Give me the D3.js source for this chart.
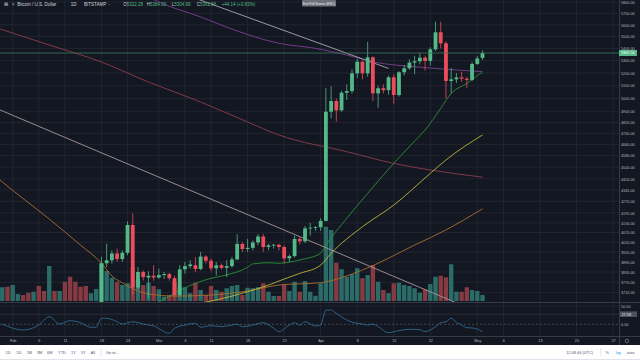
<!DOCTYPE html>
<html><head><meta charset="utf-8">
<script src="https://cdn.jsdelivr.net/npm/d3@7"></script>
<style>
body{margin:0;background:#131722;}
svg{display:block;font-family:"Liberation Sans",Arial,sans-serif;}
</style>
</head><body>
<svg id="c" width="640" height="360"></svg>
<script>
// ---------- DATA ----------
const dates = ["2019-01-30","2019-01-31",
"2019-02-01","2019-02-02","2019-02-03","2019-02-04","2019-02-05","2019-02-06","2019-02-07","2019-02-08","2019-02-09","2019-02-10",
"2019-02-11","2019-02-12","2019-02-13","2019-02-14","2019-02-15","2019-02-16","2019-02-17","2019-02-18","2019-02-19","2019-02-20",
"2019-02-21","2019-02-22","2019-02-23","2019-02-24","2019-02-25","2019-02-26","2019-02-27","2019-02-28",
"2019-03-01","2019-03-02","2019-03-03","2019-03-04","2019-03-05","2019-03-06","2019-03-07","2019-03-08","2019-03-09","2019-03-10",
"2019-03-11","2019-03-12","2019-03-13","2019-03-14","2019-03-15","2019-03-16","2019-03-17","2019-03-18","2019-03-19","2019-03-20",
"2019-03-21","2019-03-22","2019-03-23","2019-03-24","2019-03-25","2019-03-26","2019-03-27","2019-03-28","2019-03-29","2019-03-30","2019-03-31",
"2019-04-01","2019-04-02","2019-04-03","2019-04-04","2019-04-05","2019-04-06","2019-04-07","2019-04-08","2019-04-09","2019-04-10",
"2019-04-11","2019-04-12","2019-04-13","2019-04-14","2019-04-15","2019-04-16","2019-04-17","2019-04-18","2019-04-19","2019-04-20",
"2019-04-21","2019-04-22","2019-04-23","2019-04-24","2019-04-25","2019-04-26","2019-04-27","2019-04-28","2019-04-29","2019-04-30",
"2019-05-01","2019-05-02"];
const open = [3440,3465,
3435,3460,3485,3415,3410,3435,3370,3360,3610,3600,
3625,3580,3575,3565,3555,3550,3575,3630,3882,3900,
3941,3907,3945,4117,3740,3830,3798,3808,
3798,3812,3818,3794,3697,3846,3865,3870,3848,3922,
3897,3852,3870,3855,3865,3905,3999,3968,3975,4008,
4045,3980,3990,3994,3980,3911,3925,4030,4015,4096,4100,
4103,4143,4900,4981,4910,5045,5058,5198,5291,5198,
5327,5040,5080,5065,5166,5027,5206,5238,5284,5295,
5324,5298,5393,5536,5443,5137,5150,5165,5155,5145,
5273,5322.28];
const high = [3490,3480,
3480,3500,3490,3430,3440,3440,3385,3630,3630,3635,
3630,3620,3620,3590,3610,3600,3635,3922,4000,3960,
3970,3960,4140,4192,3860,3840,3835,3870,
3850,3830,3825,3810,3870,3890,3900,3920,3950,3930,
3910,3890,3880,3900,3920,4060,4010,4030,4020,4060,
4060,4000,4000,4000,3990,3935,4050,4040,4110,4130,4110,
4160,5080,5095,5000,5060,5110,5230,5315,5300,5455,
5335,5100,5110,5180,5190,5215,5265,5310,5340,5360,
5340,5410,5627,5627,5460,5240,5200,5210,5170,5290,
5340,5384];
const low = [3420,3420,
3400,3440,3400,3395,3400,3350,3350,3350,3580,3560,
3570,3540,3550,3530,3540,3545,3560,3620,3860,3880,
3890,3890,3930,3700,3730,3780,3680,3780,
3790,3790,3780,3690,3690,3820,3850,3830,3840,3880,
3835,3810,3845,3800,3855,3900,3950,3950,3960,3990,
3950,3960,3970,3960,3880,3890,3915,3995,4005,4050,4080,
4080,4140,4850,4826,4900,4990,5040,5160,5150,5170,
4980,4930,5040,5030,4960,5015,5180,5225,5190,5270,
5220,5260,5380,5400,5000,5040,5120,5130,5080,5135,
5265,5304.99];
const close = [3465,3435,
3460,3485,3415,3410,3435,3370,3360,3610,3600,3625,
3580,3575,3565,3555,3550,3575,3630,3882,3900,3941,
3907,3945,4117,3740,3830,3800,3808,3798,
3812,3818,3794,3697,3846,3865,3875,3848,3922,3897,
3852,3870,3855,3865,3905,3999,3968,3975,4008,4045,
3980,3990,3994,3980,3911,3925,4030,4015,4096,4100,4103,
4143,4900,4981,4910,5045,5058,5198,5291,5198,5327,
5040,5080,5065,5166,5027,5206,5238,5284,5295,5324,
5298,5393,5536,5443,5137,5150,5165,5155,5145,5273,
5318.42,5362.56];
const volume = [5.5,5.7,
6.4,2.8,2.4,3.3,3.7,6.0,4.0,14.0,4.0,4.0,
7.7,9.7,7.7,5.7,6.0,3.1,4.8,15.1,12.0,9.3,
7.7,6.4,7.1,13.5,8.4,6.4,7.3,6.0,
4.7,1.7,2.4,7.7,5.7,5.5,3.1,7.3,4.4,2.4,
6.0,4.4,3.7,5.1,6.0,6.4,2.4,5.3,5.1,5.5,
7.1,3.7,2.0,2.0,6.6,4.0,7.7,3.7,8.0,3.7,2.1,
7.1,29.7,28.4,15.3,12.7,9.7,10.7,13.1,9.1,10.4,
14.4,7.7,4.4,3.1,7.1,7.3,6.4,6.0,5.1,3.3,
4.7,6.8,9.7,10.1,9.5,14.7,3.7,3.7,5.5,4.4,
4.0,2.4];

// moving averages
const maGreenDates = ["2019-02-25","2019-03-01","2019-03-04","2019-03-08","2019-03-11","2019-03-14","2019-03-18","2019-03-19","2019-03-22","2019-03-24","2019-03-28","2019-04-01","2019-04-02","2019-04-06","2019-04-10","2019-04-15","2019-04-19","2019-04-21","2019-04-24","2019-04-26","2019-04-29","2019-05-01","2019-05-02"];
const maGreenVals  = [3600,3658,3708,3764,3793,3813,3858,3878,3885,3882,3902,3942,3992,4160,4322,4526,4684,4764,4926,5040,5118,5180,5206];
const maYellowDates = ["2019-03-04","2019-03-11","2019-03-18","2019-03-22","2019-03-25","2019-03-28","2019-04-01","2019-04-03","2019-04-09","2019-04-15","2019-04-22","2019-04-25","2019-05-02"];
const maYellowVals  = [3635,3663,3716,3754,3789,3822,3871,3942,4106,4245,4457,4550,4728];
const maOrangeDates = ["2019-01-29","2019-01-30","2019-02-08","2019-02-14","2019-02-18","2019-02-20","2019-02-22","2019-02-27","2019-03-04","2019-03-11","2019-03-18","2019-03-24","2019-04-01","2019-04-09","2019-04-19","2019-04-25","2019-05-02"];
const maOrangeVals  = [4429,4399,4155,3992,3883,3807,3767,3703,3691,3697,3720,3754,3768,3842,3992,4086,4221];
const maRedDates = ["2019-01-29","2019-02-08","2019-02-18","2019-02-27","2019-03-09","2019-03-18","2019-03-24","2019-04-06","2019-04-15","2019-04-22","2019-05-02"];
const maRedVals  = [5573,5429,5289,5129,4974,4823,4728,4608,4526,4480,4431];
const maPurpleDates = ["2019-02-20","2019-03-01","2019-03-09","2019-03-16","2019-03-24","2019-03-31","2019-04-06","2019-04-12","2019-04-19","2019-04-25","2019-05-02"];
const maPurpleVals  = [6050,5800,5668,5547,5443,5401,5346,5283,5251,5230,5211];

// drawn trend lines (date, price endpoints)
const trendUpperDates = ["2019-02-25","2019-04-14"];
const trendUpperVals  = [6023,5237];
const trendLowerDates = ["2019-01-25","2019-04-29"];
const trendLowerVals  = [4990,3628];

// indicator pane
const indDates = ["2019-01-30","2019-02-03","2019-02-06","2019-02-08","2019-02-10","2019-02-12","2019-02-14","2019-02-16","2019-02-17","2019-02-18","2019-02-19","2019-02-21","2019-02-22","2019-02-24","2019-02-26","2019-02-28",
"2019-03-03","2019-03-04","2019-03-06","2019-03-08","2019-03-09","2019-03-11","2019-03-13","2019-03-16","2019-03-17","2019-03-19","2019-03-21","2019-03-23","2019-03-24","2019-03-26","2019-03-27","2019-03-28","2019-03-29","2019-03-31",
"2019-04-01","2019-04-02","2019-04-03","2019-04-04","2019-04-06","2019-04-08","2019-04-09","2019-04-10","2019-04-11","2019-04-12","2019-04-14","2019-04-16","2019-04-18","2019-04-20","2019-04-21","2019-04-23","2019-04-24","2019-04-25","2019-04-26","2019-04-27","2019-04-28","2019-04-29","2019-04-30","2019-05-01","2019-05-02"];
const indVals = [0.8,-15.6,-1.9,20.8,0.8,9.9,4.4,-8.2,-8.2,16.4,16.4,7.1,0.8,7.1,0.8,-4.6,
-24.6,-10.9,-1.9,2.7,-8.2,-3.6,-6.4,0,-6.4,-1.9,4.4,-10.9,-20,-1.9,4.4,-1.9,7.1,-4.6,
-2,39,39,30,11.7,2.7,0.8,-1.9,0.8,-6.4,-22.8,-17.3,-13.7,-15,-20,-6.4,4.4,7.1,16.4,5,-1.9,-9.1,-10,-13,-20];
const indTicks = [50,0];
const indLastLabel = 27.58;

// axes
const priceTicks = [5800,5700,5600,5500,5400,5300,5200,5100,5000,4900,4820,4740,4660,4580,4500,4420,4345,4270,4195,4130,4070,4010,3950,3890,3830,3770,3710];
const tickDates = ["2019-02-01","2019-02-06","2019-02-11","2019-02-18","2019-02-23","2019-03-01","2019-03-06","2019-03-11","2019-03-18","2019-03-25","2019-04-01","2019-04-08","2019-04-15","2019-04-22","2019-05-01","2019-05-06","2019-05-13","2019-05-20","2019-05-27"];
const tickLabels = ["Feb","6","11","18","23","Mar","6","11","18","25","Apr","8","15","22","May","6","13","20","27"];
const lastPrice = 5362.56;
const rangeButtons = ["1D","5D","1M","3M","6M","YTD","1Y","5Y","All"];

// ---------- CHART ----------
const parse = d3.utcParse("%Y-%m-%d");
const svg = d3.select("#c");
const PR = 619, MB = 302, IT = 303, IB = 336, TT = 345;
const bg = "#131722", grid = "#242833", border = "#363a45", axisTxt = "#b2b5be";
const up = "#53b987", dn = "#eb4d5c";

const x = d3.scaleUtc().domain([parse("2019-02-01"), parse("2019-05-27")]).range([12.7, 613]);
const y = d3.scaleLog().domain([3770, 5700]).range([282.3, 13.3]);
const yv = d3.scaleLinear().domain([0, 30]).range([301, 226]);
const yi = d3.scaleLinear().domain([0, 50]).range([324.3, 306]);

svg.append("rect").attr("width",640).attr("height",360).attr("fill",bg);
const defs = svg.append("defs");
defs.append("clipPath").attr("id","cm").append("rect").attr("x",0).attr("y",0).attr("width",PR).attr("height",MB);
defs.append("clipPath").attr("id","ci").append("rect").attr("x",0).attr("y",IT).attr("width",PR).attr("height",IB-IT);

const tD = tickDates.map(parse);
// grid
const gg = svg.append("g");
gg.selectAll("line.vg").data(tD).join("line").attr("class","vg")
  .attr("x1",d=>x(d)).attr("x2",d=>x(d)).attr("y1",0).attr("y2",IB)
  .attr("stroke",grid).attr("stroke-width",0.8);
gg.selectAll("line.hg").data(priceTicks).join("line").attr("class","hg")
  .attr("x1",0).attr("x2",PR).attr("y1",d=>y(d)).attr("y2",d=>y(d))
  .attr("stroke",grid).attr("stroke-width",0.8);
gg.append("line").attr("x1",0).attr("x2",PR).attr("y1",yi(50)).attr("y2",yi(50)).attr("stroke",grid).attr("stroke-width",0.8);

const data = dates.map((d,i)=>({d:parse(d),o:open[i],h:high[i],l:low[i],c:close[i],v:volume[i]}));
const main = svg.append("g").attr("clip-path","url(#cm)");

// volume
main.selectAll("rect.vol").data(data).join("rect").attr("class","vol")
  .attr("x",d=>x(d.d)-2.2).attr("width",4.4)
  .attr("y",d=>yv(d.v)).attr("height",d=>yv(0)-yv(d.v))
  .attr("fill",d=>d.c>=d.o?"#2b6c69":"#863a41");

// moving averages
const line = d3.line().x(d=>x(d[0])).y(d=>y(d[1])).curve(d3.curveMonotoneX);
function ma(ds, vs, col, w){
  const pts = ds.map((d,i)=>[parse(d), vs[i]]);
  main.append("path").datum(pts).attr("d",line).attr("fill","none").attr("stroke",col).attr("stroke-width",w);
}
ma(maRedDates, maRedVals, "#8c3d4b", 0.9);
ma(maPurpleDates, maPurpleVals, "#7b3f91", 0.9);
ma(maOrangeDates, maOrangeVals, "#a86f2c", 0.9);
ma(maYellowDates, maYellowVals, "#bdb53a", 0.9);
ma(maGreenDates, maGreenVals, "#2a9134", 0.9);

// trend lines
function trend(ds, vs, col){
  const pts = ds.map((d,i)=>[parse(d), vs[i]]);
  main.append("path").datum(pts).attr("d",d3.line().x(d=>x(d[0])).y(d=>y(d[1])))
    .attr("fill","none").attr("stroke",col).attr("stroke-width",0.9);
}
trend(trendUpperDates, trendUpperVals, "#aaa6b0");
trend(trendLowerDates, trendLowerVals, "#a8979d");

// candles
const cg = main.append("g");
cg.selectAll("line.wick").data(data).join("line").attr("class","wick")
  .attr("x1",d=>x(d.d)).attr("x2",d=>x(d.d)).attr("y1",d=>y(d.h)).attr("y2",d=>y(d.l))
  .attr("stroke",d=>d.c>=d.o?up:dn).attr("stroke-width",0.8);
cg.selectAll("rect.body").data(data).join("rect").attr("class","body")
  .attr("x",d=>x(d.d)-1.9).attr("width",3.8)
  .attr("y",d=>Math.min(y(d.o),y(d.c)))
  .attr("height",d=>Math.max(0.8,Math.abs(y(d.o)-y(d.c))))
  .attr("fill",d=>d.c>=d.o?up:dn);

// current price line
main.append("line").attr("x1",0).attr("x2",PR).attr("y1",y(lastPrice)).attr("y2",y(lastPrice))
  .attr("stroke","#3d7a5c").attr("stroke-width",0.8);

// indicator pane
const ind = svg.append("g").attr("clip-path","url(#ci)");
ind.append("line").attr("x1",0).attr("x2",PR).attr("y1",yi(0)).attr("y2",yi(0))
  .attr("stroke","#50535e").attr("stroke-width",0.8).attr("stroke-dasharray","2,2");
ind.append("line").attr("x1",0).attr("x2",PR).attr("y1",yi(indLastLabel)).attr("y2",yi(indLastLabel))
  .attr("stroke","#3a3e4a").attr("stroke-width",0.6);
const ipts = indDates.map((d,i)=>[parse(d), indVals[i]]);
ind.append("path").datum(ipts)
  .attr("d",d3.line().x(d=>x(d[0])).y(d=>yi(d[1])).curve(d3.curveMonotoneX))
  .attr("fill","none").attr("stroke","#35729a").attr("stroke-width",0.8);

// borders
svg.append("line").attr("x1",0).attr("x2",640).attr("y1",MB+0.5).attr("y2",MB+0.5).attr("stroke",border).attr("stroke-width",1);
svg.append("line").attr("x1",0).attr("x2",640).attr("y1",IB+0.5).attr("y2",IB+0.5).attr("stroke",border).attr("stroke-width",1);
svg.append("line").attr("x1",PR+0.5).attr("x2",PR+0.5).attr("y1",0).attr("y2",TT).attr("stroke",border).attr("stroke-width",1);

// price axis
const pa = svg.append("g").attr("transform",`translate(${PR+2},0)`)
  .call(d3.axisRight(y).tickValues(priceTicks).tickFormat(d=>d.toFixed(2)).tickSize(0).tickPadding(0));
pa.select(".domain").remove();
pa.selectAll("text").attr("fill",axisTxt).attr("font-size",3.8).attr("font-family","Liberation Sans, Arial, sans-serif").attr("text-anchor","start");

// indicator axis labels
const ia = svg.append("g").attr("transform",`translate(${PR+2},0)`)
  .call(d3.axisRight(yi).tickValues(indTicks).tickFormat(d=>d.toFixed(2)).tickSize(0).tickPadding(0));
ia.select(".domain").remove();
ia.selectAll("text").attr("fill",axisTxt).attr("font-size",3.8).attr("font-family","Liberation Sans, Arial, sans-serif");

// last indicator label box
svg.append("rect").attr("x",PR+1).attr("y",yi(indLastLabel)-2.8).attr("width",17).attr("height",5.6).attr("fill","#4c525e");
svg.append("text").attr("x",PR+2.5).attr("y",yi(indLastLabel)).attr("dy","0.35em").attr("font-size",3.8).attr("fill","#e0e3eb").text(indLastLabel.toFixed(2));

// last price box
svg.append("rect").attr("x",PR).attr("y",y(lastPrice)-3).attr("width",18).attr("height",6).attr("fill",up);
svg.append("text").attr("x",PR+2).attr("y",y(lastPrice)).attr("dy","0.35em").attr("font-size",3.8).attr("fill","#ffffff").text(lastPrice.toFixed(2));

// time axis
const ta = svg.append("g").attr("transform",`translate(0,${IB+1})`)
  .call(d3.axisBottom(x).tickValues(tD).tickFormat((d,i)=>tickLabels[i]).tickSize(0).tickPadding(2.5));
ta.select(".domain").remove();
ta.selectAll("text").attr("fill",axisTxt).attr("font-size",3.8).attr("font-family","Liberation Sans, Arial, sans-serif");
svg.append("circle").attr("cx",627).attr("cy",341).attr("r",1.8).attr("fill","none").attr("stroke","#9598a1").attr("stroke-width",0.6);

// header legend
const hd = svg.append("text").attr("y",6.3).attr("font-size",4.5).attr("fill","#d1d4dc");
hd.append("tspan").attr("x",4).text("⊞");
hd.append("tspan").attr("x",12).attr("fill","#9598a1").text("≡");
hd.append("tspan").attr("x",17.3).text("Bitcoin / U.S. Dollar");
hd.append("tspan").attr("x",70.7).text("1D");
hd.append("tspan").attr("x",84).text("BITSTAMP");
hd.append("tspan").attr("x",108.5).text("-");
const ohlc = [["O","5322.28",123.3],["H","5384.00",146.7],["L","5304.99",171.7],["C","5362.56",196.7]];
ohlc.forEach(o=>{
  hd.append("tspan").attr("x",o[2]).attr("fill","#d1d4dc").text(o[0]);
  hd.append("tspan").attr("fill",up).text(o[1]);
});
hd.append("tspan").attr("x",221.7).attr("fill",up).text("+44.14 (+0.83%)");

// exit full screen pill
svg.append("rect").attr("x",302).attr("y",0).attr("width",34).attr("height",6.5).attr("rx",1).attr("fill","#6e727b");
svg.append("text").attr("x",319).attr("y",3.4).attr("dy","0.35em").attr("text-anchor","middle").attr("font-size",3.2).attr("fill","#f0f0f0").text("Exit Full Screen (ESC)");

// bottom toolbar
svg.append("rect").attr("x",0).attr("y",TT).attr("width",640).attr("height",360-TT).attr("fill","#ffffff");
svg.append("line").attr("x1",0).attr("x2",640).attr("y1",359.5).attr("y2",359.5).attr("stroke","#e0e3eb");
const bx = [8,19,29.4,39.6,49.8,62,73.5,83.3,93];
svg.selectAll("text.rb").data(rangeButtons).join("text").attr("class","rb")
  .attr("x",(d,i)=>bx[i]).attr("y",352.5).attr("dy","0.35em").attr("text-anchor","middle")
  .attr("font-size",3.9).attr("fill","#4f5966").text(d=>d);
svg.append("line").attr("x1",101).attr("x2",101).attr("y1",348.5).attr("y2",356.5).attr("stroke","#d6d8de").attr("stroke-width",0.6);
svg.append("text").attr("x",106).attr("y",352.5).attr("dy","0.35em").attr("font-size",3.9).attr("fill","#4f5966").text("Go to...");
svg.append("text").attr("x",579.6).attr("y",352.5).attr("dy","0.35em").attr("text-anchor","middle").attr("font-size",3.9).attr("fill","#4f5966").text("12:48:44 (UTC)");
svg.append("line").attr("x1",600.8).attr("x2",600.8).attr("y1",348.5).attr("y2",356.5).attr("stroke","#d6d8de").attr("stroke-width",0.6);
svg.append("text").attr("x",607.3).attr("y",352.5).attr("dy","0.35em").attr("text-anchor","middle").attr("font-size",3.9).attr("fill","#4f5966").text("%");
svg.append("text").attr("x",618.4).attr("y",352.5).attr("dy","0.35em").attr("text-anchor","middle").attr("font-size",3.9).attr("fill","#2196f3").text("log");
svg.append("text").attr("x",630.6).attr("y",352.5).attr("dy","0.35em").attr("text-anchor","middle").attr("font-size",3.9).attr("fill","#4f5966").text("auto");
</script>
</body></html>
